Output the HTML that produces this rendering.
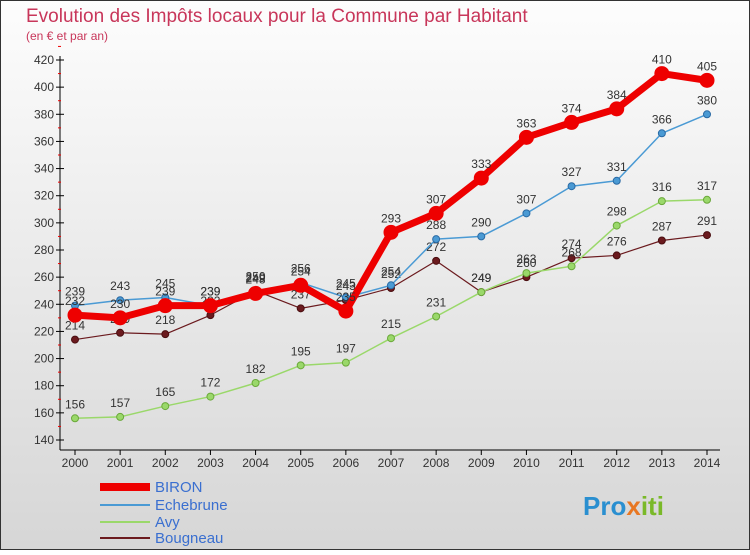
<!DOCTYPE html>
<html><head><meta charset="utf-8"><style>
body{margin:0;width:750px;height:550px;overflow:hidden;font-family:"Liberation Sans",sans-serif}
</style></head><body>
<svg width="750" height="550" xmlns="http://www.w3.org/2000/svg">
<defs><linearGradient id="bg" x1="0" y1="0" x2="0" y2="1"><stop offset="0" stop-color="#fdfdfd"/><stop offset="1" stop-color="#d6d6d6"/></linearGradient></defs>
<rect x="0.5" y="0.5" width="749" height="549" fill="url(#bg)" stroke="#333"/>
<text x="26" y="22" font-size="19" fill="#c8365a">Evolution des Impôts locaux pour la Commune par Habitant</text>
<text x="26" y="40" font-size="12" fill="#c8365a">(en € et par an)</text>
<g id="axes"></g><g id="series"></g><g id="legend"></g>
<text x="583" y="515" font-size="26" font-weight="bold" fill="#2a8fd0">Pro<tspan fill="#e87722">x</tspan><tspan fill="#7ab929">iti</tspan></text>
</svg>
<script>
const years=[2000,2001,2002,2003,2004,2005,2006,2007,2008,2009,2010,2011,2012,2013,2014];
const yTicks=[140,160,180,200,220,240,260,280,300,320,340,360,380,400,420];
const biron=[232,230,239,239,248,254,235,293,307,333,363,374,384,410,405];
const echebrune=[239,243,245,239,249,256,245,254,288,290,307,327,331,366,380];
const avy=[156,157,165,172,182,195,197,215,231,249,263,268,298,316,317];
const bougneau=[214,219,218,232,250,237,243,252,272,249,260,274,276,287,291];
const NS="http://www.w3.org/2000/svg";
function X(i){return 75+i*(707-75)/(years.length-1);}
function Y(v){return 440-(v-140)*(380/280);}
function mk(t,a,p){const e=document.createElementNS(NS,t);for(const k in a)e.setAttribute(k,a[k]);(p||document.getElementById('series')).appendChild(e);return e;}
const ax=document.getElementById('axes');
let e=mk('line',{x1:60,y1:56,x2:60,y2:450,stroke:'#000'},ax);


e=mk('line',{x1:60,y1:450,x2:720,y2:450,stroke:'#000'},ax);


yTicks.forEach(v=>{mk('line',{x1:56,y1:Y(v),x2:64,y2:Y(v),stroke:'#000'},ax);
mk('line',{x1:58,y1:Y(v+10),x2:61,y2:Y(v+10),stroke:'#e00'},ax);
const t=mk('text',{x:54,y:Y(v)+4,'font-size':12,'text-anchor':'end',fill:'#333'},ax);t.textContent=v;

});
years.forEach((y,i)=>{mk('line',{x1:X(i),y1:450,x2:X(i),y2:455,stroke:'#000'},ax);
const t=mk('text',{x:X(i),y:467,'font-size':12,'text-anchor':'middle',fill:'#333'},ax);t.textContent=y;

});
function series(d,color,w,r,name,stroke){
const p=mk('polyline',{points:d.map((v,i)=>X(i)+','+Y(v)).join(' '),fill:'none',stroke:color,'stroke-width':w,'stroke-linejoin':'round'});


d.forEach((v,i)=>{const c=mk('circle',{cx:X(i),cy:Y(v),r:r,fill:color,stroke:stroke,'stroke-width':1});


const t=mk('text',{x:X(i),y:Y(v)-10,'font-size':12,'text-anchor':'middle',fill:'#333'});t.textContent=v;

});}
series(bougneau,'#6b1a1e',1.2,3.5,'bougneau','#4a0e10');
series(avy,'#9ad86a',1.5,3.5,'avy','#6aa83a');
series(echebrune,'#4a9ad4',1.5,3.5,'echebrune','#2a6aa4');
series(biron,'#ee0000',7,7,'biron','#ee0000');
const lg=document.getElementById('legend');
[['BIRON','#ee0000',8,492],['Echebrune','#4a9ad4',2,510],['Avy','#9ad86a',2,527],['Bougneau','#6b1a1e',2,543]].forEach(([n,c,w,y])=>{
const l=mk('line',{x1:100,y1:y-5,x2:150,y2:y-5,stroke:c,'stroke-width':w},lg);


const t=mk('text',{x:155,y:y,'font-size':15,fill:'#3a6fd0'},lg);t.textContent=n;

});
</script>
</body></html>
